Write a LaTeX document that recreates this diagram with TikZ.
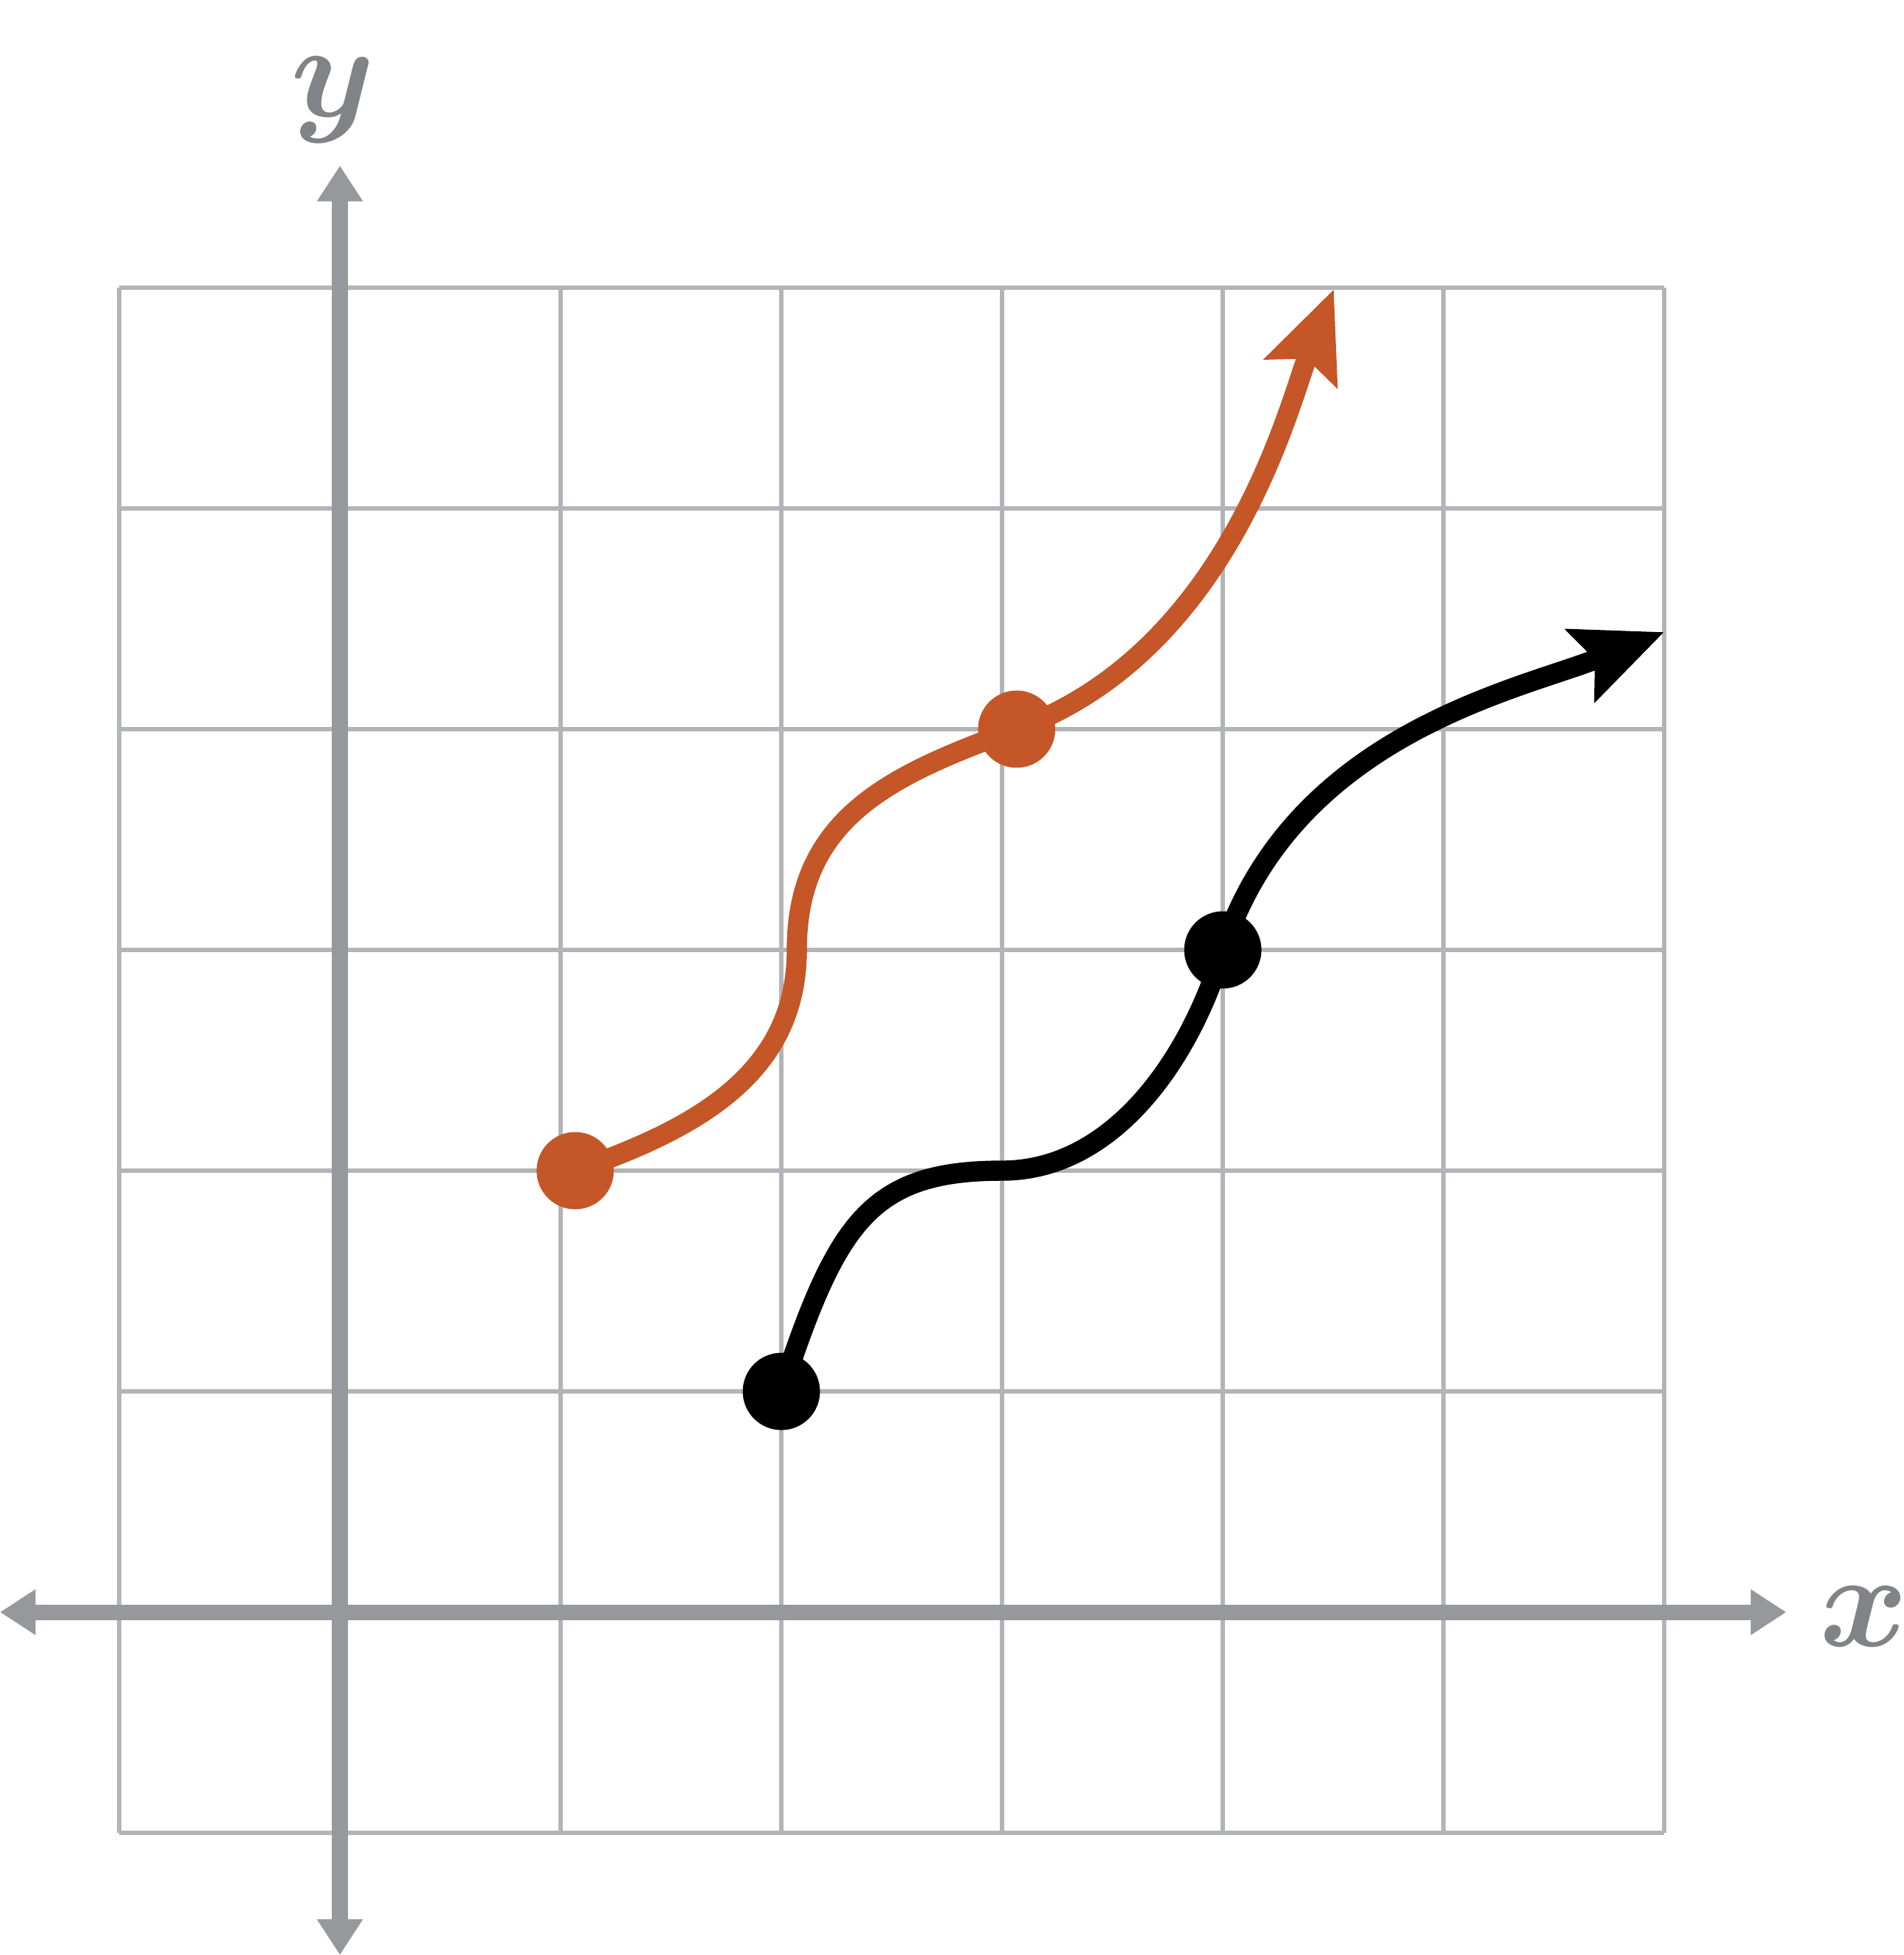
\documentclass[tikz,border=0pt]{standalone}
\usepackage{amsmath}
\usetikzlibrary{arrows.meta}
\definecolor{gridgray}{HTML}{B3B4B7}
\definecolor{axisgray}{HTML}{97989C}
\definecolor{labelgray}{HTML}{818386}
\definecolor{rust}{HTML}{C45628}

\begin{document}
\begin{tikzpicture}[x=1cm,y=1cm]
	\tikzstyle{grid line}=[gridgray,line width=0.6pt]
	\tikzstyle{axis}=[axisgray,line width=2pt,{Triangle[length=4.6pt,width=5.6pt]}-{Triangle[length=4.6pt,width=5.6pt]}]
	\tikzstyle{axis label}=[labelgray,inner sep=0pt,font=\fontsize{18}{18}\selectfont]
	\tikzstyle{curve}=[line width=2.6pt,-{Stealth[length=11.5pt,width=9.8pt,inset=1.9pt]}]
	\tikzstyle{dot}=[circle,fill,inner sep=0pt,minimum size=0.35cm]

	\useasboundingbox (-1.54,-1.553) rectangle (7.083,7.303);
	\draw[grid line] (-1,-1) grid (6,6);

	% axes
	\coordinate (xmin) at (-1.54,0);
	\coordinate (xmax) at (6.553,0);
	\coordinate (ymin) at (0,-1.553);
	\coordinate (ymax) at (0,6.553);
	\draw[axis] (xmin) -- (xmax);
	\draw[axis] (ymin) -- (ymax);
	\node[axis label] (xl) at (6.903,-0.02) {$\boldsymbol{x}$};
	\node[axis label] (yl) at (-0.03,6.85) {$\boldsymbol{y}$};

	% black curve
	\node[dot] (b1) at (2,1) {};
	\node[dot] (b2) at (4,3) {};
	\coordinate (b0) at (3,2);
	\coordinate (bend) at (6,4.44);
	\draw[curve] (b1.center) .. controls (2.25,1.76) and (2.4,2) .. (b0)
		.. controls (3.5,2) and (3.85,2.5) .. (b2.center)
		.. controls (4.32,3.98) and (5.35,4.18) .. (bend);

	% orange curve
	\node[dot,rust] (r1) at (1.066,2) {};
	\node[dot,rust] (r2) at (3.066,4) {};
	\coordinate (r0) at (2.07,3);
	\coordinate (rend) at (4.503,5.993);
	\draw[curve,rust] (r1.center) .. controls (1.633,2.195) and (2.07,2.45) .. (r0)
		.. controls (2.07,3.6) and (2.50,3.795) .. (r2.center)
		.. controls (4.034,4.352) and (4.302,5.481) .. (rend);
\end{tikzpicture}
\end{document}
